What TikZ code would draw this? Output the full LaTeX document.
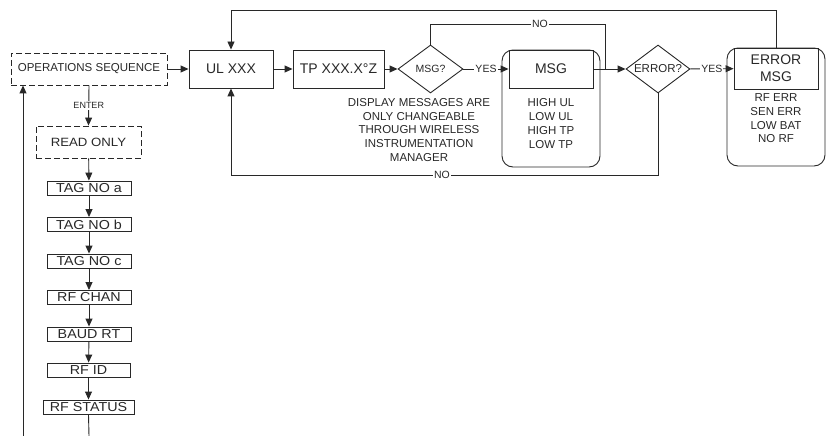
\documentclass[tikz,border=0pt]{standalone}
\usepackage{fontspec}
\setmainfont{Liberation Sans}
\newfontfamily\widesans[FakeStretch=1.1]{Liberation Sans}
\usepackage{xcolor}
\usetikzlibrary{arrows.meta, shapes.geometric}

\definecolor{ink}{RGB}{40,40,40}
\newcommand{\fs}[1]{\fontsize{#1}{#1}\selectfont}

\begin{document}
\begin{tikzpicture}[x=1pt, y=-1pt, line width=0.9pt, draw=ink,
        every node/.style={text=ink},
        arr/.style={-{Triangle[length=8pt, width=7pt]}},
        box/.style={draw=ink, rectangle, inner sep=0pt, font=\fs{14}},
        dashbox/.style={box, dash pattern=on 6pt off 3pt},
        tagbox/.style={box, minimum width=84pt, minimum height=14pt, font=\widesans\fs{13}},
        roundbox/.style={draw=ink, rectangle, rounded corners=11pt, inner sep=0pt},
        decision/.style={draw=ink, diamond, inner sep=0pt, shape aspect=1.35},
        lbl/.style={fill=white, inner sep=1pt, font=\fs{10.5}},
        txt/.style={align=center, inner sep=0pt}]
        \useasboundingbox (0,0) rectangle (828,436);

        % main loop along the top
        \node[dashbox, minimum width=156pt, minimum height=32pt, font=\fs{11.5}] (ops) at (89,69) {OPERATIONS SEQUENCE};
        \node[box, minimum width=84pt, minimum height=38pt] (ul) at (231,69) {UL XXX};
        \node[box, minimum width=91pt, minimum height=38pt] (tp) at (338.5,69) {TP XXX.X°Z};
        \node[decision, minimum width=65pt, minimum height=48pt, font=\fs{10.5}] (msgq) at (430.5,69) {MSG?};
        \node[txt, font={\fontsize{11.5}{13.9}\selectfont}] (note) at (419,130) {DISPLAY MESSAGES ARE\\ONLY CHANGEABLE\\THROUGH WIRELESS\\INSTRUMENTATION\\MANAGER};

        \node[roundbox, minimum width=98pt, minimum height=117pt] (msgbox) at (551,108.5) {};
        \node[box, minimum width=84pt, minimum height=38pt] (msg) at (551,69) {MSG};
        \node[txt, font={\fontsize{11.5}{13.7}\selectfont}] (msglist) at (551,123.5) {HIGH UL\\LOW UL\\HIGH TP\\LOW TP};

        \node[decision, minimum width=64pt, minimum height=48pt, font=\fs{11.5}] (err) at (658,69) {ERROR?};

        \node[roundbox, minimum width=98pt, minimum height=118pt] (errbox) at (776,107) {};
        \node[box, align=center, minimum width=84pt, minimum height=41pt, font={\fontsize{14}{17}\selectfont}] (errmsg) at (776,68.5) {ERROR\\MSG};
        \node[txt, font={\fontsize{11.5}{13.7}\selectfont}] (errlist) at (776,118.5) {RF ERR\\SEN ERR\\LOW BAT\\NO RF};

        \coordinate (join) at (605,69);
        \coordinate (top) at (776,10);
        \coordinate (bot) at (658,175);

        \draw[arr] (ops) -- (ul);
        \draw[arr] (ul) -- (tp);
        \draw[arr] (tp) -- (msgq);
        \draw[arr] (msgq) -- node[lbl] (yes1) {YES} (msg);
        \draw (msgq.north) |- (join |- 0,24) -- (join);
        \node[lbl] (no1) at (540,24) {NO};
        \draw[arr] (msg) -- (err);
        \draw[arr] (err) -- node[lbl] (yes2) {YES} (errmsg);
        \draw[arr] (errmsg.north) -- (top) -| (ul.north);
        \draw[arr] (err.south) -- (bot) -| (ul.south);
        \node[lbl] (no2) at (442,175) {NO};

        % read only menu down the left side
        \node[dashbox, minimum width=105pt, minimum height=32pt, font=\widesans\fs{12}] (ro) at (88.5,142) {READ ONLY};
        \node[tagbox] (taga) at (89,188) {TAG NO a};
        \node[tagbox] (tagb) at (89,224.5) {TAG NO b};
        \node[tagbox] (tagc) at (89,261) {TAG NO c};
        \node[tagbox] (chan) at (89,297.5) {RF CHAN};
        \node[tagbox] (baud) at (89,334) {BAUD RT};
        \node[tagbox, minimum width=83pt] (rfid) at (88.5,370) {RF ID};
        \node[tagbox, minimum width=91pt] (stat) at (88.5,407) {RF STATUS};

        \coordinate (down) at (89,436);
        \coordinate (back) at (23,436);

        \draw[arr] (ops.south) -- node[lbl, font=\fs{9}] (enter) {ENTER} (ro.north);
        \draw[arr] (ro) -- (taga);
        \draw[arr] (taga) -- (tagb);
        \draw[arr] (tagb) -- (tagc);
        \draw[arr] (tagc) -- (chan);
        \draw[arr] (chan) -- (baud);
        \draw[arr] (baud) -- (rfid);
        \draw[arr] (rfid) -- (stat);
        \draw (stat.south) -- (down);
        \draw[arr] (back) -- (back |- ops.south);
    \end{tikzpicture}
\end{document}
